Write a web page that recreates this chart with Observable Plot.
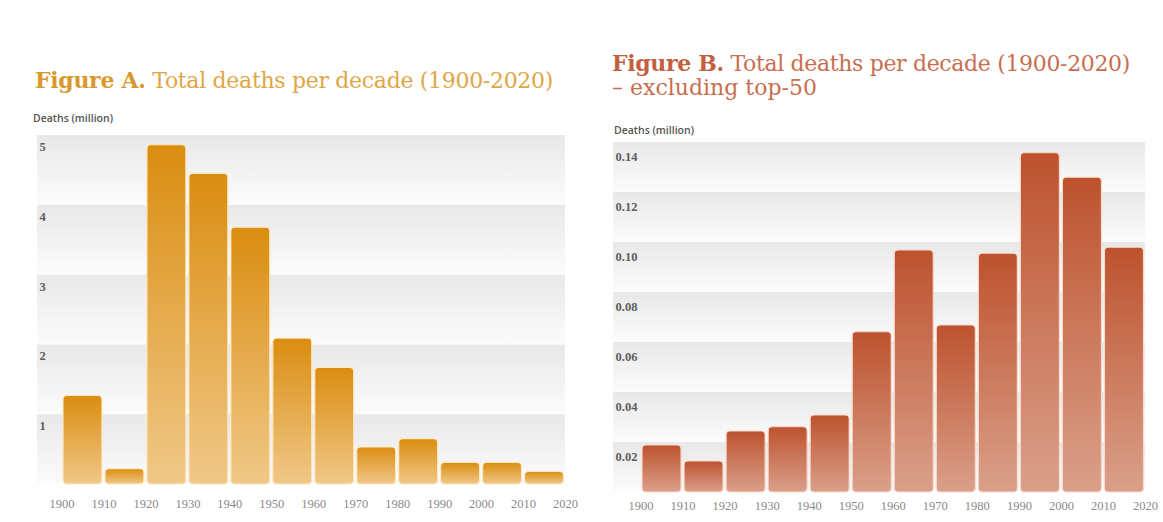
<!DOCTYPE html>
<html><head><meta charset="utf-8">
<script src="https://cdn.jsdelivr.net/npm/d3@7"></script>
<script src="https://cdn.jsdelivr.net/npm/@observablehq/plot@0.6"></script>
<style>
html,body{margin:0;padding:0;background:#fff;}
body{width:1163px;height:522px;overflow:hidden;position:relative;font-family:"Open Sans",sans-serif;}
.title{position:absolute;font-family:"DejaVu Serif",serif;font-size:22px;line-height:24px;white-space:nowrap;}
.ylab{position:absolute;font-family:"Open Sans",sans-serif;font-size:10.5px;line-height:14px;font-weight:600;color:#555;white-space:nowrap;}
.chart{position:absolute;}
</style></head><body>
<div id="tA" class="title" style="left:35px;top:68px;color:#e0a645"><span style="font-weight:bold;color:#d9982c">Figure A.</span> Total deaths per decade (1900-2020)</div>
<div id="tB1" class="title" style="left:612px;top:51px;color:#c86e50"><span style="font-weight:bold;color:#c2603f">Figure B.</span> Total deaths per decade (1900-2020)</div>
<div id="tB2" class="title" style="left:612px;top:76px;color:#c86e50">– excluding top-50</div>
<div class="ylab" style="left:33px;top:111px">Deaths (million)</div>
<div class="ylab" style="left:614px;top:123px">Deaths (million)</div>
<div id="chartA" class="chart" style="left:0px;top:125px"></div>
<div id="chartB" class="chart" style="left:590px;top:132px"></div>
<script>
// ---- data ----
const decades = [1900, 1910, 1920, 1930, 1940, 1950, 1960, 1970, 1980, 1990, 2000, 2010];
const deathsA = [1.27, 0.22, 4.86, 4.45, 3.68, 2.09, 1.67, 0.53, 0.65, 0.31, 0.31, 0.18];
const deathsB = [0.0188, 0.0124, 0.0244, 0.0261, 0.0308, 0.0641, 0.0968, 0.0668, 0.0955, 0.1357, 0.1259, 0.0979];
const yTicksA = [1, 2, 3, 4, 5];
const yTicksB = [0.02, 0.04, 0.06, 0.08, 0.10, 0.12, 0.14];
const xTicks = [1900, 1910, 1920, 1930, 1940, 1950, 1960, 1970, 1980, 1990, 2000, 2010, 2020];
const decadeSpan = 10;

const rowsA = decades.map((d, i) => ({decade: d, value: deathsA[i]}));
const rowsB = decades.map((d, i) => ({decade: d, value: deathsB[i]}));

function gradDefs(list) {
  return () => {
    const ns = "http://www.w3.org/2000/svg";
    const defs = document.createElementNS(ns, "defs");
    for (const [id, top, bottom] of list) {
      const g = document.createElementNS(ns, "linearGradient");
      g.setAttribute("id", id);
      g.setAttribute("x1", "0"); g.setAttribute("y1", "0");
      g.setAttribute("x2", "0"); g.setAttribute("y2", "1");
      const s1 = document.createElementNS(ns, "stop");
      s1.setAttribute("offset", "0"); s1.setAttribute("stop-color", top);
      const s2 = document.createElementNS(ns, "stop");
      s2.setAttribute("offset", "1"); s2.setAttribute("stop-color", bottom);
      g.appendChild(s1); g.appendChild(s2);
      defs.appendChild(g);
    }
    return defs;
  };
}

function makeChart(cfg) {
  const step = cfg.ticks[1] - cfg.ticks[0];
  const marks = [
    gradDefs([[cfg.id + "band", "#e8e8e8", "#fcfcfc"], [cfg.id + "bar", cfg.top, cfg.bottom]]),
    Plot.rect(cfg.ticks, {y1: d => d - step, y2: d => d, fill: `url(#${cfg.id}band)`}),
    Plot.text(cfg.ticks, {y: d => d, frameAnchor: "left", dx: 2, dy: cfg.labelDy, textAnchor: "start",
      text: cfg.fmt, fill: "#5e5e5e", fontSize: 12.5, fontWeight: 600}),
    Plot.rect(cfg.rows, {x1: "decade", x2: d => d.decade + decadeSpan, y1: 0, y2: "value",
      fill: `url(#${cfg.id}bar)`, stroke: cfg.stroke, strokeWidth: 1.2, insetLeft: 1.5, insetRight: 1.5, rx: 4})
  ];
  const xOpts = {domain: [xTicks[0], xTicks[xTicks.length - 1]], insetLeft: cfg.insetLeft, label: null};
  if (typeof Plot.axisX === "function") {
    marks.push(Plot.axisX(xTicks, {tickSize: 0, tickPadding: cfg.tickPadding, tickFormat: d => String(d),
      fill: "#8a8a8a", fontSize: 12.5, label: null}));
    xOpts.axis = null;
  } else {
    Object.assign(xOpts, {ticks: xTicks, tickSize: 0, tickPadding: cfg.tickPadding, tickFormat: d => String(d)});
  }
  return Plot.plot({
    width: cfg.width, height: cfg.height,
    marginLeft: cfg.ml, marginRight: cfg.mr, marginTop: cfg.mt, marginBottom: cfg.mb,
    style: {background: "transparent", fontFamily: "'Liberation Serif', serif", fontSize: "12.5px", color: "#8a8a8a"},
    x: xOpts,
    y: {domain: [0, cfg.ticks[cfg.ticks.length - 1]], axis: null},
    marks
  });
}

document.getElementById("chartA").appendChild(makeChart({
  id: "A", rows: rowsA, ticks: yTicksA, fmt: d => String(d),
  top: "#da8d10", bottom: "#f0c888", stroke: "#fde8c2",
  width: 580, height: 390, ml: 37, mr: 15, mt: 10, mb: 31, insetLeft: 24.5, tickPadding: 15, labelDy: 11.5
}));
document.getElementById("chartB").appendChild(makeChart({
  id: "B", rows: rowsB, ticks: yTicksB, fmt: d3.format(".2f"),
  top: "#bd522e", bottom: "#daa08a", stroke: "#f8d9c9",
  width: 573, height: 390, ml: 23, mr: 18, mt: 10, mb: 30, insetLeft: 27.5, tickPadding: 9, labelDy: 14
}));

// fit title widths to the reference line lengths
function fit(id, target) {
  const el = document.getElementById(id);
  const w = el.getBoundingClientRect().width;
  const n = el.textContent.length;
  el.style.letterSpacing = ((target - w) / n) + "px";
}
fit("tA", 518);
fit("tB1", 518);
</script>
</body></html>
